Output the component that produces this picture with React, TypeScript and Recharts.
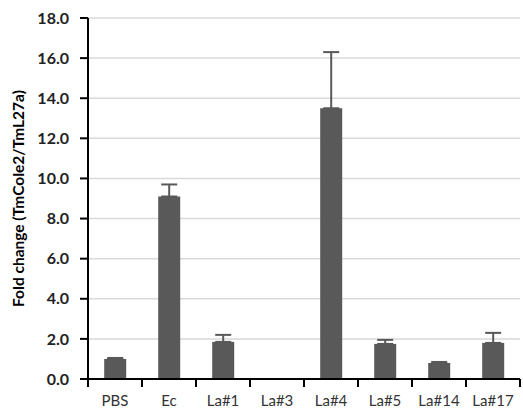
import React from 'react';
import { BarChart, Bar, XAxis, YAxis, CartesianGrid, ErrorBar } from 'recharts';

const categories = ['PBS', 'Ec', 'La#1', 'La#3', 'La#4', 'La#5', 'La#14', 'La#17'];
const foldChange = [1.0, 9.1, 1.85, 0, 13.5, 1.75, 0.8, 1.8];
const errorUp = [0.05, 0.6, 0.35, 0, 2.8, 0.2, 0.05, 0.5];
const yTicks = [0, 2, 4, 6, 8, 10, 12, 14, 16, 18];

const data = categories.map((c, i) => ({ name: c, value: foldChange[i], err: [0, errorUp[i]] }));

const FONT = 'Lato, "Open Sans", sans-serif';

const XTick = (props: any) => {
  const { x, y, payload, width, visibleTicksCount, index } = props;
  const band = width / visibleTicksCount;
  const half = band / 2;
  return (
    <g>
      <line x1={x + half} x2={x + half} y1={y - 8} y2={y} stroke="#000" strokeWidth={2} />
      {index === 0 && <line x1={x - half} x2={x - half} y1={y - 8} y2={y} stroke="#000" strokeWidth={2} />}
      <text x={x} y={y + 19} textAnchor="middle" fontFamily={FONT} fontSize={15} fill="#333">
        {payload.value}
      </text>
    </g>
  );
};

export default function App() {
  return (
    <div style={{ position: 'absolute', left: 0, top: 0, width: 523, height: 417, background: '#fff' }}>
      <BarChart
        width={523}
        height={417}
        data={data}
        margin={{ top: 18, right: 3, bottom: 0, left: 8 }}
        barCategoryGap="30%"
      >
        <CartesianGrid vertical={false} stroke="#d9d9d9" strokeWidth={1.5} />
        <XAxis
          dataKey="name"
          height={38}
          axisLine={{ stroke: '#000', strokeWidth: 2 }}
          tickLine={false}
          tick={<XTick />}
          interval={0}
        />
        <YAxis
          width={80}
          domain={[0, 18]}
          ticks={yTicks}
          interval={0}
          tickFormatter={(v: number) => v.toFixed(1)}
          axisLine={{ stroke: '#000', strokeWidth: 2 }}
          tickLine={{ stroke: '#000', strokeWidth: 2 }}
          tickSize={8}
          tick={{ fontFamily: FONT, fontSize: 16, fontWeight: 700, fill: '#222', dx: -9 }}
          label={{
            value: 'Fold change (TmCole2/TmL27a)',
            angle: -90,
            position: 'insideLeft',
            offset: 10,
            style: { textAnchor: 'middle', fontFamily: FONT, fontSize: 15.5, fontWeight: 700, fill: '#000' },
          }}
        />
        <Bar dataKey="value" fill="#595959" isAnimationActive={false}>
          <ErrorBar dataKey="err" direction="y" width={8} stroke="#595959" strokeWidth={2} />
        </Bar>
      </BarChart>
    </div>
  );
}
